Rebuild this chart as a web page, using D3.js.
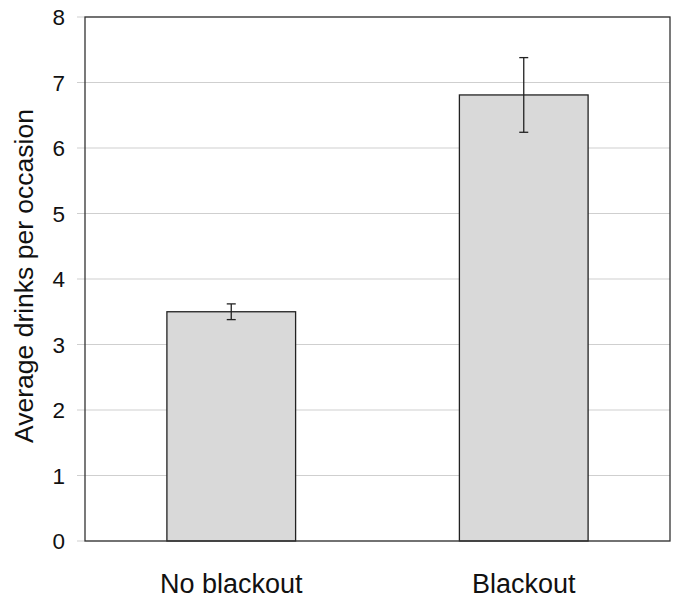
<!DOCTYPE html>
<html>
<head>
<meta charset="utf-8">
<script src="https://cdn.jsdelivr.net/npm/d3@7"></script>
<style>
	body { margin: 0; background: #fff; }
	svg { font-family: "Liberation Sans", Arial, sans-serif; }
</style>
</head>
<body>
<svg id="chart" width="677" height="598"></svg>
<script>
var categories = ['No blackout', 'Blackout'];
var means = [3.5, 6.81];
var errors = [0.12, 0.57];
var yTicks = [0, 1, 2, 3, 4, 5, 6, 7, 8];

var margin = {top: 17, right: 7, bottom: 57, left: 85};
var width = 677 - margin.left - margin.right;
var height = 598 - margin.top - margin.bottom;

var svg = d3.select('#chart');
var g = svg.append('g')
	.attr('transform', 'translate(' + margin.left + ',' + margin.top + ')');

var x = d3.scaleBand().domain(categories).range([0, width]).paddingInner(0.56).paddingOuter(0.28);
var y = d3.scaleLinear().domain([0, 8]).range([height, 0]);

// gridlines, reaching a little left of the axis like tick marks
g.selectAll('line.grid')
	.data(yTicks)
	.enter()
	.append('line')
	.attr('class', 'grid')
	.attr('x1', -8)
	.attr('x2', width)
	.attr('y1', function(d) { return y(d); })
	.attr('y2', function(d) { return y(d); })
	.attr('stroke', '#cfcfcf')
	.attr('stroke-width', 1.2);

g.selectAll('text.tick')
	.data(yTicks)
	.enter()
	.append('text')
	.attr('class', 'tick')
	.attr('x', -20)
	.attr('y', function(d) { return y(d); })
	.attr('dy', '0.37em')
	.attr('text-anchor', 'end')
	.attr('font-size', 22.5)
	.attr('fill', '#111')
	.text(function(d) { return d; });

// bars
g.selectAll('rect.bar')
	.data(means)
	.enter()
	.append('rect')
	.attr('class', 'bar')
	.attr('x', function(d, i) { return x(categories[i]); })
	.attr('width', x.bandwidth())
	.attr('y', function(d) { return y(d); })
	.attr('height', function(d) { return height - y(d); })
	.attr('fill', '#d9d9d9')
	.attr('stroke', '#222')
	.attr('stroke-width', 1.3);

// error bars
var err = g.selectAll('g.err')
	.data(means)
	.enter()
	.append('g')
	.attr('class', 'err')
	.attr('transform', function(d, i) {
		return 'translate(' + (x(categories[i]) + x.bandwidth() / 2) + ',0)';
	});

err.append('line')
	.attr('y1', function(d, i) { return y(d + errors[i]); })
	.attr('y2', function(d, i) { return y(d - errors[i]); })
	.attr('stroke', '#222')
	.attr('stroke-width', 1.3);

err.selectAll('line.cap')
	.data(function(d, i) { return [d + errors[i], d - errors[i]]; })
	.enter()
	.append('line')
	.attr('class', 'cap')
	.attr('x1', -4.5)
	.attr('x2', 4.5)
	.attr('y1', function(d) { return y(d); })
	.attr('y2', function(d) { return y(d); })
	.attr('stroke', '#222')
	.attr('stroke-width', 1.3);

// frame
g.append('rect')
	.attr('width', width)
	.attr('height', height)
	.attr('fill', 'none')
	.attr('stroke', '#333')
	.attr('stroke-width', 1.3);

// category labels
g.selectAll('text.cat')
	.data(categories)
	.enter()
	.append('text')
	.attr('class', 'cat')
	.attr('x', function(d) { return x(d) + x.bandwidth() / 2; })
	.attr('y', height + 52)
	.attr('text-anchor', 'middle')
	.attr('font-size', 27)
	.attr('fill', '#111')
	.text(function(d) { return d; });

svg.append('text')
	.attr('transform', 'translate(33,276) rotate(-90)')
	.attr('text-anchor', 'middle')
	.attr('font-size', 26.5)
	.attr('fill', '#111')
	.text('Average drinks per occasion');
</script>
</body>
</html>
